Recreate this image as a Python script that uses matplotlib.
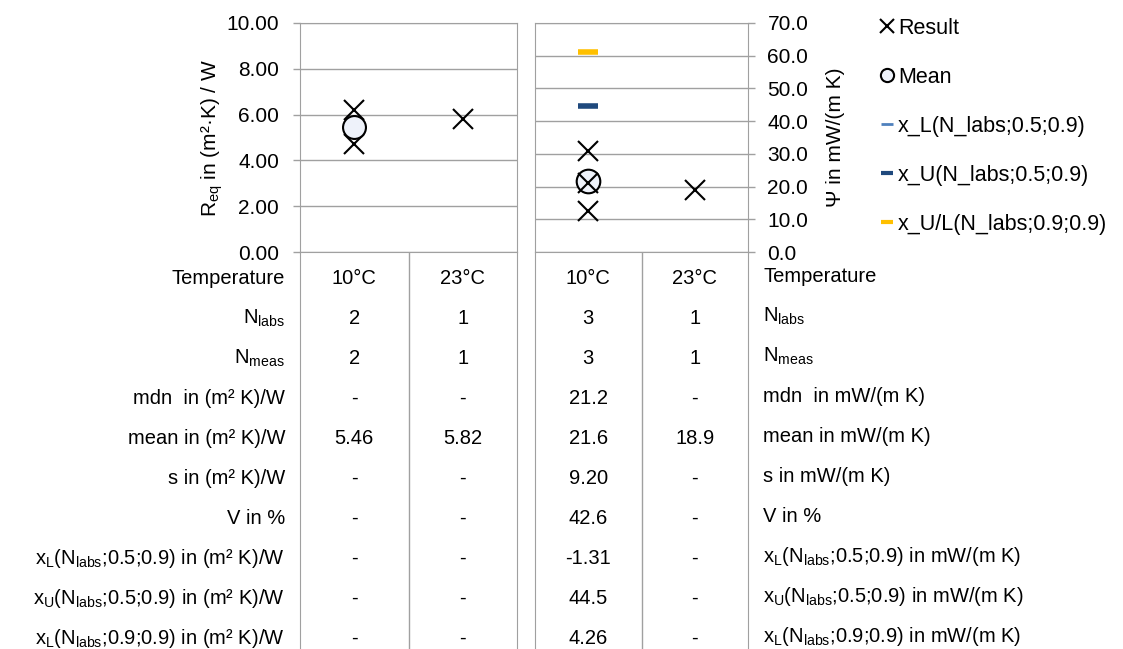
import numpy as np
import matplotlib
matplotlib.use("Agg")
import matplotlib.pyplot as plt
from matplotlib.lines import Line2D

plt.rcParams['font.family'] = ['Liberation Sans', 'DejaVu Sans']
plt.rcParams['mathtext.fontset'] = 'custom'
plt.rcParams['mathtext.rm'] = 'Liberation Sans'
plt.rcParams['mathtext.it'] = 'Liberation Sans:italic'

# data
temps = ["10°C", "23°C"]

# left panel: R_eq in (m2 K)/W
r_results = [[6.20, 4.72], [5.82]]
r_mean = [5.46, 5.82]

# right panel: Psi in mW/(m K)
psi_results = [[31.0, 21.2, 12.6], [18.9]]
psi_mean = [21.6, 18.9]
psi_xL = [-1.31, np.nan]
psi_xU = [44.5, np.nan]
psi_xUL09 = [61.2, np.nan]

# table values
r_table = [
    ["2", "1"], ["2", "1"], ["-", "-"], ["5.46", "5.82"], ["-", "-"],
    ["-", "-"], ["-", "-"], ["-", "-"], ["-", "-"],
]
psi_table = [
    ["3", "1"], ["3", "1"], ["21.2", "-"], ["21.6", "18.9"], ["9.20", "-"],
    ["42.6", "-"], ["-1.31", "-"], ["44.5", "-"], ["4.26", "-"],
]
row_labels_left = [
    "Temperature", r"N$_{\rm labs}$", r"N$_{\rm meas}$", "mdn  in (m² K)/W",
    "mean in (m² K)/W", "s in (m² K)/W", "V in %",
    r"x$_{\rm L}$(N$_{\rm labs}$;0.5;0.9) in (m² K)/W",
    r"x$_{\rm U}$(N$_{\rm labs}$;0.5;0.9) in (m² K)/W",
    r"x$_{\rm L}$(N$_{\rm labs}$;0.9;0.9) in (m² K)/W",
]
row_labels_right = [
    "Temperature", r"N$_{\rm labs}$", r"N$_{\rm meas}$", "mdn  in mW/(m K)",
    "mean in mW/(m K)", "s in mW/(m K)", "V in %",
    r"x$_{\rm L}$(N$_{\rm labs}$;0.5;0.9) in mW/(m K)",
    r"x$_{\rm U}$(N$_{\rm labs}$;0.5;0.9) in mW/(m K)",
    r"x$_{\rm L}$(N$_{\rm labs}$;0.9;0.9) in mW/(m K)",
]

W, H = 1123, 649
GRID = '#a0a0a0'
C_LB = '#4f81bd'
C_DB = '#1f497d'
C_OR = '#ffc000'
MEANFILL = '#eef2fa'
FS = 14.5

fig = plt.figure(figsize=(W / 100, H / 100), dpi=100)


def fx(px):
    return px / W


def fy(py):
    return 1 - py / H


def setup_plot(ax, ymax, step, fmt, pad):
    ax.set_xlim(-0.5, 1.5)
    ax.set_ylim(0, ymax)
    ax.set_yticks(np.arange(0, ymax + step / 2, step))
    ax.yaxis.set_major_formatter(matplotlib.ticker.FormatStrFormatter(fmt))
    ax.set_xticks([])
    ax.grid(axis='y', color=GRID, linewidth=1)
    ax.set_axisbelow(True)
    for s in ax.spines.values():
        s.set_color(GRID)
    ax.tick_params(axis='y', colors=GRID, labelcolor='black', labelsize=15,
                   length=5, width=1, pad=pad)


x_pos = np.arange(len(temps))

# left plot
ax1 = fig.add_axes([fx(300), fy(252), fx(517 - 300), (252 - 23) / H])
setup_plot(ax1, 10, 2, '%.2f', 10)
for i, vals in enumerate(r_results):
    ax1.plot([x_pos[i]] * len(vals), vals, 'x', color='black', ms=14, mew=1.5, zorder=3)
ax1.plot(x_pos[:1], r_mean[:1], 'o', ms=16.5, mfc=MEANFILL, mec='black', mew=1.5, zorder=4)
ax1.set_ylabel(r"R$_{\rm eq}$ in (m²·K) / W", fontsize=15, labelpad=1)

# right plot
ax2 = fig.add_axes([fx(535), fy(252), fx(748 - 535), (252 - 23) / H])
setup_plot(ax2, 70, 10, '%.1f', 9)
ax2.yaxis.tick_right()
ax2.yaxis.set_label_position('right')
ax2.plot(x_pos[:1], psi_mean[:1], 'o', ms=17, mfc=MEANFILL, mec='black', mew=1.5, zorder=3)
for i, vals in enumerate(psi_results):
    ax2.plot([x_pos[i]] * len(vals), vals, 'x', color='black', ms=14, mew=1.5, zorder=4)
ax2.plot(x_pos, psi_xL, '_', color=C_LB, ms=15, mew=4, zorder=3)
ax2.plot(x_pos, psi_xU, '_', color=C_DB, ms=15, mew=4, zorder=3)
ax2.plot(x_pos, psi_xUL09, '_', color=C_OR, ms=15, mew=4, zorder=3)
ax2.set_ylabel("Ψ in mW/(m K)", fontsize=15, rotation=90, labelpad=13)

# table areas
row_y = [278 + 40 * k for k in range(len(row_labels_left))]
for ax, vals, x0, x1 in [(ax1, r_table, 300, 517), (ax2, psi_table, 535, 748)]:
    tab = fig.add_axes([fx(x0), 0, fx(x1 - x0), fy(252)])
    tab.set_xlim(-0.5, 1.5)
    tab.set_ylim(H, 252)
    tab.set_xticks([])
    tab.set_yticks([])
    tab.patch.set_alpha(0)
    for side in ['top', 'bottom']:
        tab.spines[side].set_visible(False)
    for side in ['left', 'right']:
        tab.spines[side].set_color(GRID)
    tab.axvline(0.5, color=GRID, linewidth=1)
    for j, t in enumerate(temps):
        tab.text(x_pos[j], row_y[0], t, ha='center', va='center', fontsize=FS)
        for k, row in enumerate(vals):
            tab.text(x_pos[j], row_y[k + 1], row[j], ha='center', va='center', fontsize=FS)

for k, lab in enumerate(row_labels_left):
    fig.text(fx(285), fy(row_y[k]), lab, ha='right', va='center', fontsize=FS)
for k, lab in enumerate(row_labels_right):
    fig.text(fx(763), fy(row_y[k] - 2), lab, ha='left', va='center', fontsize=FS)

# legend
handles = [
    Line2D([], [], ls='none', marker='x', color='black', ms=10, mew=1.5),
    Line2D([], [], ls='none', marker='o', mfc=MEANFILL, mec='black', ms=9.5, mew=1.5),
    Line2D([], [], ls='none', marker='_', color=C_LB, ms=9, mew=2),
    Line2D([], [], ls='none', marker='_', color=C_DB, ms=9, mew=3),
    Line2D([], [], ls='none', marker='_', color=C_OR, ms=9, mew=3),
]
labels = ["Result", "Mean", "x_L(N_labs;0.5;0.9)", "x_U(N_labs;0.5;0.9)",
          "x_U/L(N_labs;0.9;0.9)"]
fig.legend(handles, labels, loc='upper left', bbox_to_anchor=(fx(881), fy(18)),
           frameon=False, fontsize=15.5, handlelength=0.6, handletextpad=0.2,
           labelspacing=1.3, borderpad=0, borderaxespad=0)

fig.savefig("out.png", dpi=100)
